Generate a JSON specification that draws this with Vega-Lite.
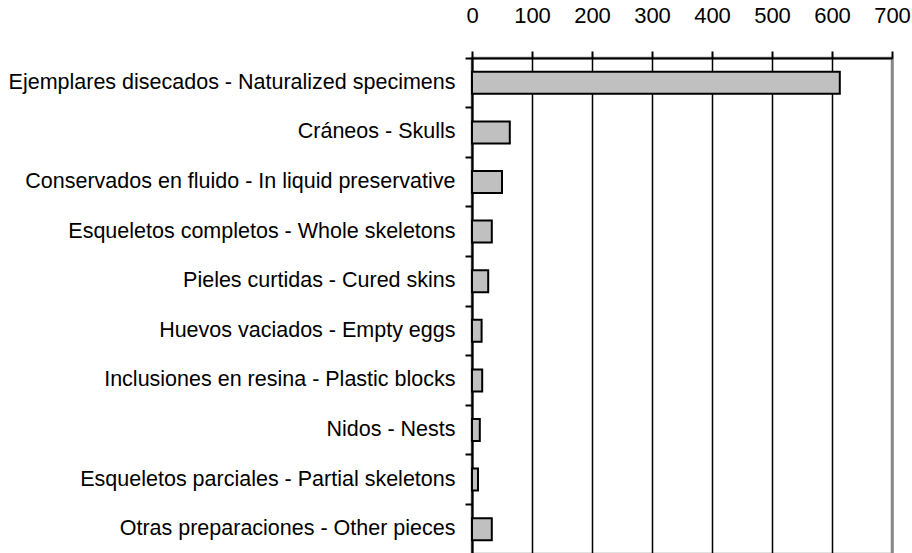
{
  "$schema": "https://vega.github.io/schema/vega-lite/v6.json",
  "autosize": "none",
  "width": 420,
  "height": 496,
  "padding": {"left": 472, "top": 58, "right": 20, "bottom": 0},
  "background": "white",
  "config": {
    "view": {"stroke": "#888888", "strokeWidth": 2.5},
    "font": "Liberation Sans"
  },
  "data": {
    "values": [
      {"category": "Ejemplares disecados - Naturalized specimens", "count": 613},
      {"category": "Cráneos - Skulls", "count": 63},
      {"category": "Conservados en fluido - In liquid preservative", "count": 50},
      {"category": "Esqueletos completos - Whole skeletons", "count": 33},
      {"category": "Pieles curtidas - Cured skins", "count": 27},
      {"category": "Huevos vaciados - Empty eggs", "count": 16},
      {"category": "Inclusiones en resina - Plastic blocks", "count": 17},
      {"category": "Nidos - Nests", "count": 13},
      {"category": "Esqueletos parciales - Partial skeletons", "count": 10},
      {"category": "Otras preparaciones - Other pieces", "count": 33}
    ]
  },
  "mark": {"type": "bar", "fill": "#c0c0c0", "stroke": "black", "strokeWidth": 2, "size": 22},
  "encoding": {
    "y": {
      "field": "category",
      "type": "nominal",
      "sort": null,
      "scale": {"paddingInner": 0, "paddingOuter": 0},
      "axis": {
        "title": null,
        "bandPosition": 0,
        "domainColor": "black",
        "domainWidth": 2,
        "tickColor": "black",
        "tickWidth": 2,
        "tickSize": 7,
        "labelPadding": 10,
        "labelFontSize": 21.5,
        "labelLimit": 0,
        "labelColor": "black",
        "labelFont": "Liberation Sans",
        "grid": false
      }
    },
    "x": {
      "field": "count",
      "type": "quantitative",
      "scale": {"domain": [0, 700], "nice": false},
      "axis": {
        "orient": "top",
        "title": null,
        "values": [0, 100, 200, 300, 400, 500, 600, 700],
        "domainColor": "black",
        "domainWidth": 2,
        "tickColor": "black",
        "tickWidth": 2,
        "tickSize": 7,
        "labelPadding": 24,
        "labelFontSize": 22,
        "labelColor": "black",
        "labelFont": "Liberation Sans",
        "labelFlush": false,
        "grid": true,
        "gridColor": {"condition": {"test": "datum.value === 700", "value": "#888888"}, "value": "black"},
        "gridWidth": {"condition": {"test": "datum.value === 700", "value": 2.5}, "value": 1.5},
        "gridOpacity": 1
      }
    }
  }
}
